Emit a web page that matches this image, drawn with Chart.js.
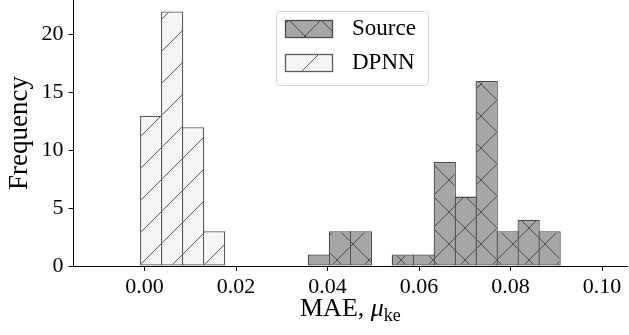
<!DOCTYPE html>
<html>
<head>
<meta charset="utf-8">
<script src="https://cdn.jsdelivr.net/npm/chart.js@4.4.1/dist/chart.umd.min.js"></script>
<style>
  html, body { margin: 0; padding: 0; background: #fff; }
  canvas { display: block; }
</style>
</head>
<body>
<canvas id="histChart" width="629" height="335"></canvas>
<script>
// histogram: 24 equal bins between -0.01 and 0.10
const binStart = -0.01;
const binEnd = 0.10;
const binCount = 24;
const sourceCounts = [0, 0, 0, 0, 0, 0, 0, 0, 0, 0, 1, 3, 3, 0, 1, 1, 9, 6, 16, 3, 4, 3, 0, 0];
const dpnnCounts   = [0, 0, 13, 22, 12, 3, 0, 0, 0, 0, 0, 0, 0, 0, 0, 0, 0, 0, 0, 0, 0, 0, 0, 0];
const seriesNames = ['Source', 'DPNN'];
const xTicks = [0.00, 0.02, 0.04, 0.06, 0.08, 0.10];
const yTicks = [0, 5, 10, 15, 20];

const serif = "'Liberation Serif', 'Times New Roman', serif";

const binWidth = (binEnd - binStart) / binCount;
const binCenters = sourceCounts.map(function (_, i) { return binStart + (i + 0.5) * binWidth; });

// bars a touch wider than the bin so neighbouring edges share one line
const edgeWidth = 1.3;
const barPct = 1.062;

// matplotlib-like hatches, 32px period, fixed to the canvas origin
function makeHatch(bg, lineColor, cross) {
    const c = document.createElement('canvas');
    c.width = 32;
    c.height = 32;
    const g = c.getContext('2d');
    g.fillStyle = bg;
    g.fillRect(0, 0, 32, 32);
    g.strokeStyle = lineColor;
    g.lineWidth = 1;
    g.beginPath();
    [21, 53].forEach(function (k) {        // x + y = k
        g.moveTo(k + 4, -4);
        g.lineTo(k - 36, 36);
    });
    if (cross) {
        [-19, 13].forEach(function (k) {   // x - y = k
            g.moveTo(k - 4, -4);
            g.lineTo(k + 36, 36);
        });
    }
    g.stroke();
    return g.createPattern(c, 'repeat');
}

const sourceFill = makeHatch('#a6a6a6', '#4a4a4a', true);
const dpnnFill = makeHatch('#f6f6f6', '#5a5a5a', false);

// legend box + x axis title with subscript
const extras = {
    id: 'extras',
    afterDraw: function (chart) {
        const ctx = chart.ctx;
        const area = chart.chartArea;
        ctx.save();

        // legend
        const bx = 276.5, by = 11.5, bw = 152, bh = 74, r = 4;
        ctx.beginPath();
        ctx.moveTo(bx + r, by);
        ctx.arcTo(bx + bw, by, bx + bw, by + bh, r);
        ctx.arcTo(bx + bw, by + bh, bx, by + bh, r);
        ctx.arcTo(bx, by + bh, bx, by, r);
        ctx.arcTo(bx, by, bx + bw, by, r);
        ctx.closePath();
        ctx.fillStyle = 'rgba(255,255,255,0.8)';
        ctx.fill();
        ctx.strokeStyle = '#d6d6d6';
        ctx.lineWidth = 1;
        ctx.stroke();

        const items = [
            { label: seriesNames[0], fill: sourceFill, edge: '#4a4a4a', y: 20 },
            { label: seriesNames[1], fill: dpnnFill, edge: '#5a5a5a', y: 54 }
        ];
        items.forEach(function (it) {
            ctx.fillStyle = it.fill;
            ctx.fillRect(285, it.y, 48, 18);
            ctx.strokeStyle = it.edge;
            ctx.lineWidth = edgeWidth;
            ctx.strokeRect(285.5, it.y + 0.5, 47, 17);
            ctx.fillStyle = '#000';
            ctx.font = '23px ' + serif;
            ctx.textBaseline = 'middle';
            ctx.textAlign = 'left';
            ctx.fillText(it.label, 352, it.y + 9);
        });

        // x title: MAE, mu_ke
        const base = 316;
        const f1 = '26px ' + serif, f2 = 'italic 26px ' + serif, f3 = '18px ' + serif;
        ctx.textBaseline = 'alphabetic';
        ctx.font = f1; const w1 = ctx.measureText('MAE, ').width;
        ctx.font = f2; const w2 = ctx.measureText('\u03bc').width;
        ctx.font = f3; const w3 = ctx.measureText('ke').width;
        let x = (area.left + area.right) / 2 - (w1 + w2 + w3) / 2;
        ctx.fillStyle = '#000';
        ctx.font = f1; ctx.fillText('MAE, ', x, base); x += w1;
        ctx.font = f2; ctx.fillText('\u03bc', x, base); x += w2;
        ctx.font = f3; ctx.fillText('ke', x, base + 5);
        ctx.restore();
    }
};

const ctx = document.getElementById('histChart').getContext('2d');
const histChart = new Chart(ctx, {
    type: 'bar',
    data: {
        datasets: [{
            label: seriesNames[0],
            data: binCenters.map(function (x, i) { return { x: x, y: sourceCounts[i] }; }),
            backgroundColor: sourceFill,
            borderColor: '#4a4a4a',
            borderWidth: edgeWidth,
            borderSkipped: false,
            grouped: false,
            barPercentage: barPct,
            categoryPercentage: 1
        }, {
            label: seriesNames[1],
            data: binCenters.map(function (x, i) { return { x: x, y: dpnnCounts[i] }; }),
            backgroundColor: dpnnFill,
            borderColor: '#5a5a5a',
            borderWidth: edgeWidth,
            borderSkipped: false,
            grouped: false,
            barPercentage: barPct,
            categoryPercentage: 1
        }]
    },
    options: {
        responsive: false,
        animation: false,
        devicePixelRatio: 1,
        layout: { autoPadding: false, padding: { left: 0, right: 1.8, top: 0, bottom: 0 } },
        plugins: {
            legend: { display: false },
            tooltip: { enabled: false }
        },
        scales: {
            x: {
                type: 'linear',
                offset: false,
                min: -0.0155,
                max: 0.1055,
                afterBuildTicks: function (scale) {
                    scale.ticks = xTicks.map(function (v) { return { value: v }; });
                },
                afterFit: function (scale) {
                    scale.height = 69;
                    scale.paddingLeft = 0;
                    scale.paddingRight = 0;
                },
                ticks: {
                    color: '#000',
                    font: { family: serif, size: 22 },
                    padding: 3,
                    maxRotation: 0,
                    callback: function (v) { return Number(v).toFixed(2); }
                },
                grid: { display: true, offset: false, drawOnChartArea: false, drawTicks: true, tickLength: 5, tickColor: '#000' },
                border: { display: true, color: '#000', width: 1 }
            },
            y: {
                min: 0,
                max: 23,
                afterBuildTicks: function (scale) {
                    scale.ticks = yTicks.map(function (v) { return { value: v }; });
                },
                afterFit: function (scale) {
                    scale.width = 73.6;
                    scale.paddingTop = 0;
                    scale.paddingBottom = 0;
                },
                ticks: {
                    color: '#000',
                    font: { family: serif, size: 22 },
                    padding: 5
                },
                title: {
                    display: true,
                    text: 'Frequency',
                    color: '#000',
                    font: { family: serif, size: 27 },
                    padding: { top: 4, bottom: 0 }
                },
                grid: { display: true, drawOnChartArea: false, drawTicks: true, tickLength: 5, tickColor: '#000' },
                border: { display: true, color: '#000', width: 1 }
            }
        }
    },
    plugins: [extras]
});
</script>
</body>
</html>
